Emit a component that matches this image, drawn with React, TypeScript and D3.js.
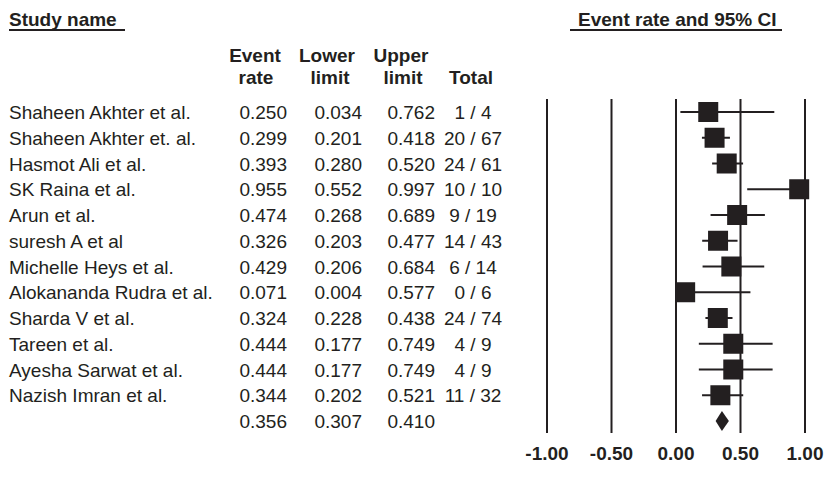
import * as d3 from "d3";

const studies = [
  "Shaheen Akhter et al.",
  "Shaheen Akhter et. al.",
  "Hasmot Ali et al.",
  "SK Raina et al.",
  "Arun et al.",
  "suresh A et al",
  "Michelle Heys et al.",
  "Alokananda Rudra et al.",
  "Sharda V et al.",
  "Tareen et al.",
  "Ayesha Sarwat et al.",
  "Nazish Imran et al.",
];
const eventRate = [0.25, 0.299, 0.393, 0.955, 0.474, 0.326, 0.429, 0.071, 0.324, 0.444, 0.444, 0.344];
const lowerLimit = [0.034, 0.201, 0.28, 0.552, 0.268, 0.203, 0.206, 0.004, 0.228, 0.177, 0.177, 0.202];
const upperLimit = [0.762, 0.418, 0.52, 0.997, 0.689, 0.477, 0.684, 0.577, 0.438, 0.749, 0.749, 0.521];
const totals = ["1 / 4", "20 / 67", "24 / 61", "10 / 10", "9 / 19", "14 / 43", "6 / 14", "0 / 6", "24 / 74", "4 / 9", "4 / 9", "11 / 32"];
const summary = { rate: 0.356, lower: 0.307, upper: 0.41 };
const xTicks = [-1, -0.5, 0, 0.5, 1];

const INK = "#231f20";
const FONT = "'Liberation Sans', Arial, sans-serif";

export default function App() {
  const width = 824;
  const height = 479;

  const x = d3.scaleLinear().domain([-1, 1]).range([547, 805]);
  const y = d3.scaleLinear().domain([0, 12]).range([112, 421]);
  const fmt = d3.format(".3f");
  // hyphen minus like the original, not d3's unicode minus
  const fmtTick = (t: number) => t.toFixed(2);

  const box = 20;
  const plotTop = 99;
  const plotBottom = 433;

  const colEnd = { rate: 287, lower: 362, upper: 435 };
  const totalMid = 473;
  const fs = 19;

  const sy = y(12);

  return (
    <svg
      width={width}
      height={height}
      style={{ position: "absolute", left: 0, top: 0, background: "#fff" }}
      fontFamily={FONT}
    >
      {/* headers */}
      <text x={9} y={26} fontSize={fs} fontWeight="700" fill={INK}>
        Study name
      </text>
      <line x1={9} x2={125} y1={30} y2={30} stroke={INK} strokeWidth={2} />
      <text x={578} y={26} fontSize={fs} fontWeight="700" fill={INK}>
        Event rate and 95% CI
      </text>
      <line x1={570} x2={782} y1={30} y2={30} stroke={INK} strokeWidth={2} />

      <g fontSize={fs} fontWeight="700" fill={INK} textAnchor="middle">
        <text x={255} y={62}>Event</text>
        <text x={256} y={84}>rate</text>
        <text x={327} y={62}>Lower</text>
        <text x={330} y={84}>limit</text>
        <text x={401} y={62}>Upper</text>
        <text x={403} y={84}>limit</text>
        <text x={471} y={84}>Total</text>
      </g>

      {/* vertical reference lines */}
      {xTicks.map((t) => (
        <g key={t}>
          <line x1={x(t)} x2={x(t)} y1={plotTop} y2={plotBottom} stroke={INK} strokeWidth={2} />
          <text
            x={x(t)}
            y={460}
            fontSize={fs}
            fontWeight="700"
            textAnchor="middle"
            fill={INK}
          >
            {fmtTick(t)}
          </text>
        </g>
      ))}

      {/* rows */}
      {studies.map((name, i) => {
        const cy = y(i);
        return (
          <g key={name + i} fill={INK} fontSize={fs}>
            <text x={9} y={cy + 7}>{name}</text>
            <text x={colEnd.rate} y={cy + 7} textAnchor="end">{fmt(eventRate[i])}</text>
            <text x={colEnd.lower} y={cy + 7} textAnchor="end">{fmt(lowerLimit[i])}</text>
            <text x={colEnd.upper} y={cy + 7} textAnchor="end">{fmt(upperLimit[i])}</text>
            <text x={totalMid} y={cy + 7} textAnchor="middle">{totals[i]}</text>
            <line
              x1={x(lowerLimit[i])}
              x2={x(upperLimit[i])}
              y1={cy}
              y2={cy}
              stroke={INK}
              strokeWidth={2}
            />
            <rect x={x(eventRate[i]) - box / 2} y={cy - box / 2} width={box} height={box} fill={INK} />
          </g>
        );
      })}

      {/* summary */}
      <g fill={INK} fontSize={fs}>
        <text x={colEnd.rate} y={sy + 7} textAnchor="end">{fmt(summary.rate)}</text>
        <text x={colEnd.lower} y={sy + 7} textAnchor="end">{fmt(summary.lower)}</text>
        <text x={colEnd.upper} y={sy + 7} textAnchor="end">{fmt(summary.upper)}</text>
        <path
          d={`M${x(summary.lower)},${sy} L${x(summary.rate)},${sy - 10} L${x(summary.upper)},${sy} L${x(summary.rate)},${sy + 10} Z`}
        />
      </g>
    </svg>
  );
}
